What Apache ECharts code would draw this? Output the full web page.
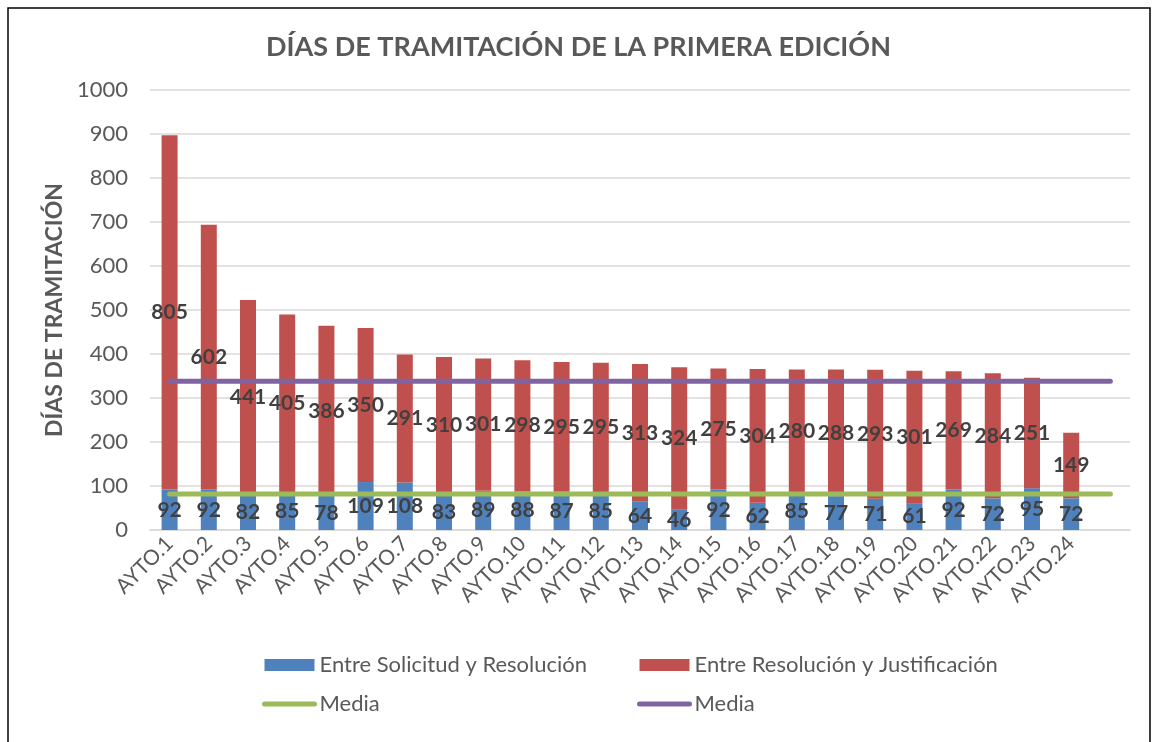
<!DOCTYPE html>
<html>
<head>
<meta charset="utf-8">
<script src="https://cdn.jsdelivr.net/npm/echarts@6/dist/echarts.min.js"></script>
<style>
  html, body { margin: 0; padding: 0; background: #fff; }
  #chart { width: 1157px; height: 742px; }
</style>
</head>
<body>
<div id="chart"></div>
<script>
// categories (last one is an empty slot, like the original sheet)
const ayuntamientos = ["AYTO.1","AYTO.2","AYTO.3","AYTO.4","AYTO.5","AYTO.6","AYTO.7","AYTO.8","AYTO.9","AYTO.10","AYTO.11","AYTO.12","AYTO.13","AYTO.14","AYTO.15","AYTO.16","AYTO.17","AYTO.18","AYTO.19","AYTO.20","AYTO.21","AYTO.22","AYTO.23","AYTO.24",""];

// días entre solicitud y resolución
const solicitudResolucion = [92,92,82,85,78,109,108,83,89,88,87,85,64,46,92,62,85,77,71,61,92,72,95,72];
// días entre resolución y justificación
const resolucionJustificacion = [805,602,441,405,386,350,291,310,301,298,295,295,313,324,275,304,280,288,293,301,269,284,251,149];

// medias (horizontal lines)
const mediaVerde = [82,82,82,82,82,82,82,82,82,82,82,82,82,82,82,82,82,82,82,82,82,82,82,82,82];
const mediaMorada = [338,338,338,338,338,338,338,338,338,338,338,338,338,338,338,338,338,338,338,338,338,338,338,338,338];

const FONT = "Lato";
const GREY = "#595959";

const chart = echarts.init(document.getElementById("chart"));

const barLabel = {
  show: true,
  position: "inside",
  color: "#404040",
  fontFamily: FONT,
  fontWeight: "bold",
  fontSize: 21
};

const legendText = { fontSize: 22, color: GREY, fontFamily: FONT, lineHeight: 24 };
const mediaName = n => n.startsWith("Media") ? "Media" : n;

chart.setOption({
  animation: false,
  textStyle: { fontFamily: FONT },
  title: {
    text: "DÍAS DE TRAMITACIÓN DE LA PRIMERA EDICIÓN",
    left: "center",
    top: 29,
    textStyle: { fontFamily: FONT, fontSize: 27, fontWeight: "bold", color: GREY }
  },
  graphic: [{
    type: "rect",
    shape: { x: 8, y: 8, width: 1142, height: 800 },
    style: { fill: "none", stroke: "#000", lineWidth: 1.5 },
    silent: true
  }],
  grid: { left: 150, right: 27, top: 90, bottom: 212 },
  legend: [
    {
      left: 262, top: 653, orient: "vertical", padding: 0,
      itemWidth: 50, itemHeight: 12, itemGap: 15,
      textStyle: legendText,
      data: [
        { name: "Entre Solicitud y Resolución", icon: "rect" },
        { name: "Media1", itemStyle: { opacity: 0 }, lineStyle: { width: 5, cap: "round" } }
      ],
      formatter: mediaName
    },
    {
      left: 637, top: 653, orient: "vertical", padding: 0,
      itemWidth: 50, itemHeight: 12, itemGap: 15,
      textStyle: legendText,
      data: [
        { name: "Entre Resolución y Justificación", icon: "rect" },
        { name: "Media2", itemStyle: { opacity: 0 }, lineStyle: { width: 5, cap: "round" } }
      ],
      formatter: mediaName
    }
  ],
  xAxis: {
    type: "category",
    data: ayuntamientos,
    axisTick: { show: false },
    axisLine: { lineStyle: { color: "#D9D9D9", width: 1.5 } },
    axisLabel: { rotate: 45, interval: 0, color: GREY, fontSize: 21, fontFamily: FONT, margin: 10 }
  },
  yAxis: {
    type: "value",
    min: 0, max: 1000, interval: 100,
    name: "DÍAS DE TRAMITACIÓN",
    nameLocation: "middle",
    nameGap: 74,
    nameTextStyle: { fontSize: 23, fontWeight: "bold", color: GREY, fontFamily: FONT },
    axisLine: { show: false },
    axisTick: { show: false },
    axisLabel: { color: GREY, fontSize: 22, fontFamily: FONT, margin: 22, formatter: v => String(v) },
    splitLine: { lineStyle: { color: "#D9D9D9", width: 1.5 } }
  },
  series: [
    {
      name: "Entre Solicitud y Resolución",
      type: "bar",
      stack: "dias",
      barWidth: 16,
      itemStyle: { color: "#4F81BD" },
      label: barLabel,
      data: solicitudResolucion
    },
    {
      name: "Entre Resolución y Justificación",
      type: "bar",
      stack: "dias",
      barWidth: 16,
      itemStyle: { color: "#C0504D" },
      label: barLabel,
      data: resolucionJustificacion
    },
    {
      name: "Media1",
      type: "line",
      symbol: "none",
      silent: true,
      z: 3,
      lineStyle: { color: "#9BBB59", width: 5, cap: "round" },
      itemStyle: { color: "#9BBB59" },
      data: mediaVerde
    },
    {
      name: "Media2",
      type: "line",
      symbol: "none",
      silent: true,
      z: 3,
      lineStyle: { color: "#8064A2", width: 5, cap: "round" },
      itemStyle: { color: "#8064A2" },
      data: mediaMorada
    }
  ]
});
</script>
</body>
</html>
